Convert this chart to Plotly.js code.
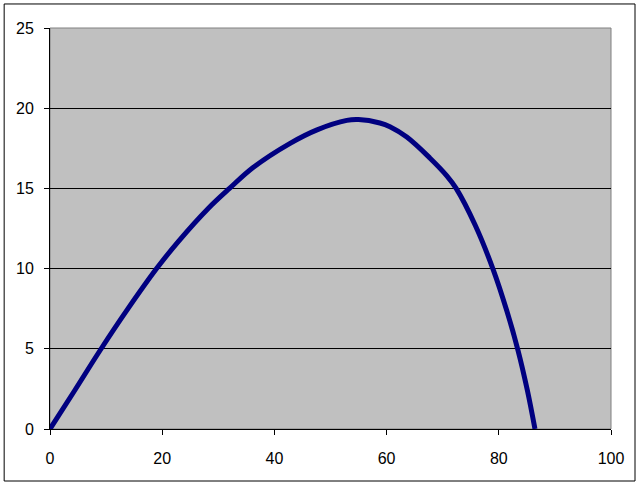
<!DOCTYPE html>
<html>
<head>
<meta charset="utf-8">
<script src="https://cdn.plot.ly/plotly-3.0.1.min.js"></script>
<style>html,body{margin:0;padding:0;background:#fff;}#chart{width:641px;height:485px;}</style>
</head>
<body>
<div id="chart"></div>
<script>
// Trajectory values
const xValues = [0, 4.4, 9.0, 13.9, 19.0, 22.9, 28.2, 32.0, 36.2, 42.8, 47.6, 52.9, 55.0, 58.8, 60.6, 63.6, 67.7, 70.7, 72.4, 75.8, 79.0, 81.4, 83.4, 85.1, 86.45];
const yValues = [0, 2.4, 4.94, 7.5, 10.0, 11.7, 13.75, 15.0, 16.3, 17.81, 18.65, 19.24, 19.29, 19.08, 18.85, 18.2, 16.9, 15.8, 15.0, 12.7, 9.94, 7.4, 4.94, 2.4, 0];
const xTicks = [0, 20, 40, 60, 80, 100];
const yTicks = [0, 5, 10, 15, 20, 25];

const trace = {
  x: xValues, y: yValues, type: 'scatter', mode: 'lines',
  line: {color: '#000080', width: 5, shape: 'spline', smoothing: 1},
  hoverinfo: 'none', showlegend: false
};

const axisFont = {family: 'Liberation Sans, Arial, sans-serif', size: 16, color: '#000'};

const layout = {
  width: 641, height: 485,
  margin: {l: 50, r: 30, t: 28, b: 56, pad: 0},
  paper_bgcolor: '#ffffff',
  plot_bgcolor: '#c0c0c0',
  xaxis: {
    range: [0, 100], tickvals: xTicks, ticktext: xTicks.map(String),
    showgrid: false, zeroline: false, showline: true, linecolor: '#000', linewidth: 1,
    ticks: 'outside', ticklen: 5, tickcolor: '#000', tickwidth: 1,
    tickfont: axisFont, ticklabelstandoff: 10, fixedrange: true
  },
  yaxis: {
    range: [0, 25], tickvals: yTicks, ticktext: yTicks.map(String),
    showgrid: true, gridcolor: '#000', gridwidth: 1,
    zeroline: false, showline: true, linecolor: '#000', linewidth: 1,
    ticks: 'outside', ticklen: 5, tickcolor: '#000', tickwidth: 1,
    tickfont: axisFont, ticklabelstandoff: 7, fixedrange: true
  },
  shapes: [
    {type: 'rect', xref: 'paper', yref: 'paper', x0: 0, x1: 1, y0: 0, y1: 1,
     line: {color: '#808080', width: 1}, layer: 'below'},
    {type: 'rect', xref: 'paper', yref: 'paper', x0: -0.0817, x1: 1.0428, y0: -0.1297, y1: 1.0599,
     line: {color: '#000', width: 1}, fillcolor: 'rgba(0,0,0,0)'}
  ]
};

Plotly.newPlot('chart', [trace], layout, {staticPlot: true, displayModeBar: false});
</script>
</body>
</html>
